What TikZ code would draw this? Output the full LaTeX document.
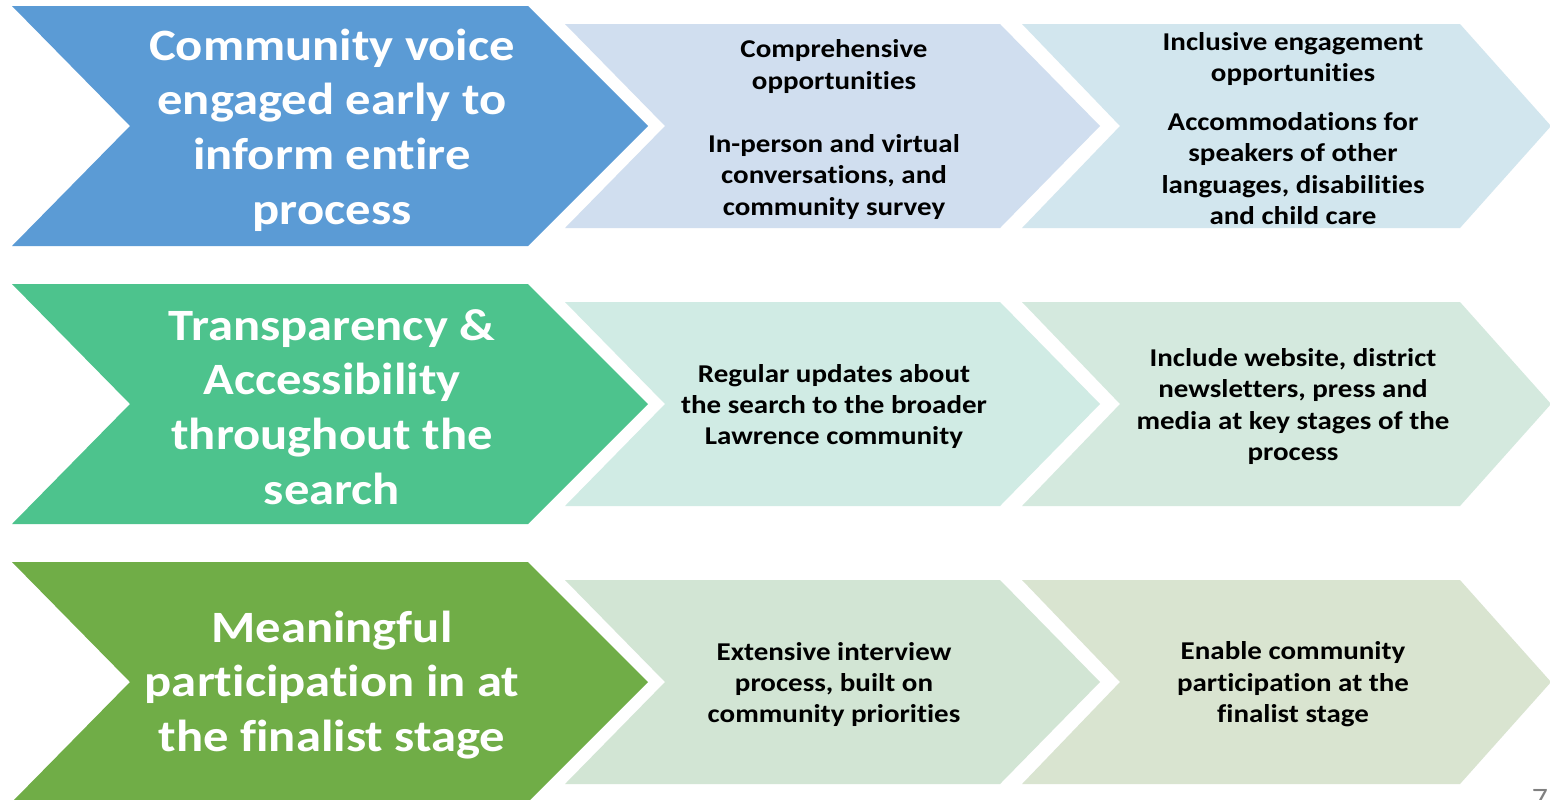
\documentclass[tikz,border=0pt]{standalone}
\usepackage{fontspec}
\setmainfont[FakeStretch=1.13, Ligatures=NoCommon]{Carlito}
\definecolor{VoiceBlue}{RGB}{91, 155, 213}
\definecolor{VoiceLightA}{RGB}{208, 222, 239}
\definecolor{VoiceLightB}{RGB}{210, 230, 238}
\definecolor{OpenGreen}{RGB}{77, 195, 141}
\definecolor{OpenLightA}{RGB}{208, 235, 228}
\definecolor{OpenLightB}{RGB}{212, 233, 222}
\definecolor{FinalGreen}{RGB}{112, 173, 71}
\definecolor{FinalLightA}{RGB}{210, 229, 212}
\definecolor{FinalLightB}{RGB}{217, 228, 208}
\definecolor{PageGray}{RGB}{128, 128, 128}

\begin{document}
\begin{tikzpicture}[x=0.02cm, y=-0.02cm,
    headtext/.style={text=white, align=center, font=\fontsize{25.5}{31.1}\selectfont\bfseries},
    steptext/.style={text=black, align=center, font=\fontsize{14.6}{17.9}\selectfont\bfseries}]

        \fill[white] (0,0) rectangle (1550,799);
        \useasboundingbox (0,0) rectangle (1550,799);

        % --- ROW 1: COMMUNITY VOICE ---
        \fill[VoiceBlue] (12,6) -- (528,6) -- (648,126) -- (528,246) -- (12,246) -- (130,126) -- cycle;
        \fill[VoiceLightA] (565,24) -- (1000,24) -- (1100,126) -- (1000,228) -- (565,228) -- (665,126) -- cycle;
        \fill[VoiceLightB] (1022,24) -- (1460,24) -- (1551,126) -- (1460,228) -- (1022,228) -- (1120,126) -- cycle;

        \node[headtext] (voice) at (332,130) {Community voice\\engaged early to\\inform entire\\process};
        \node[steptext] (voiceA) at (834,129.5) {Comprehensive\\opportunities\\[17.9pt]In-person and virtual\\conversations, and\\community survey};
        \node[steptext] (voiceB) at (1293,128.5) {Inclusive engagement\\opportunities\\[10pt]Accommodations for\\speakers of other\\languages, disabilities\\and child care};

        % --- ROW 2: TRANSPARENCY ---
        \fill[OpenGreen] (12,284) -- (528,284) -- (648,404) -- (528,524) -- (12,524) -- (130,404) -- cycle;
        \fill[OpenLightA] (565,302) -- (1000,302) -- (1100,404) -- (1000,506) -- (565,506) -- (665,404) -- cycle;
        \fill[OpenLightB] (1022,302) -- (1460,302) -- (1551,404) -- (1460,506) -- (1022,506) -- (1120,404) -- cycle;

        \node[headtext] (open) at (332,407) {Transparency \&\\Accessibility\\throughout the\\search};
        \node[steptext] (openA) at (834,406.5) {Regular updates about\\the search to the broader\\Lawrence community};
        \node[steptext] (openB) at (1293,406.5) {Include website, district\\newsletters, press and\\media at key stages of the\\process};

        % --- ROW 3: FINALIST STAGE ---
        \fill[FinalGreen] (12,562) -- (528,562) -- (648,682) -- (528,802) -- (12,802) -- (130,682) -- cycle;
        \fill[FinalLightA] (565,580) -- (1000,580) -- (1100,682) -- (1000,784) -- (565,784) -- (665,682) -- cycle;
        \fill[FinalLightB] (1022,580) -- (1460,580) -- (1551,682) -- (1460,784) -- (1022,784) -- (1120,682) -- cycle;

        \node[headtext] (final) at (332,685) {Meaningful\\participation in at\\the finalist stage};
        \node[steptext] (finalA) at (834,684.5) {Extensive interview\\process, built on\\community priorities};
        \node[steptext] (finalB) at (1293,684.5) {Enable community\\participation at the\\finalist stage};

        % page number, cut by the page edge
        \node[text=PageGray, font=\fontsize{16}{19}\selectfont, anchor=north, inner sep=0pt] (page) at (1540,789) {7};

\end{tikzpicture}
\end{document}
